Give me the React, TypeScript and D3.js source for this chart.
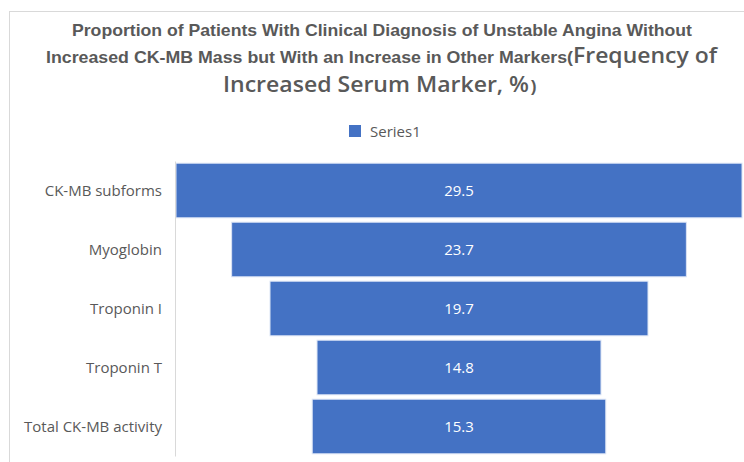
import React, { useEffect, useRef } from "react";
import * as d3 from "d3";

// funnel data, top to bottom
const markers = ["CK-MB subforms", "Myoglobin", "Troponin I", "Troponin T", "Total CK-MB activity"];
const series1 = [29.5, 23.7, 19.7, 14.8, 15.3];
const seriesName = "Series1";

const W = 744;
const H = 462;
const gray = "#595959";
const blue = "#4472C4";

export default function App() {
  const axisRef = useRef<SVGGElement>(null);

  const plotLeft = 175;
  const plotRight = 743;
  const center = (plotLeft + plotRight) / 2;

  const y = d3.scaleBand<string>()
    .domain(markers)
    .range([161, 456])
    .paddingInner(0.075)
    .paddingOuter(0.0375);

  const x = d3.scaleLinear()
    .domain([0, d3.max(series1) as number])
    .range([0, 566]);

  useEffect(() => {
    const g = d3.select(axisRef.current);
    g.selectAll("*").remove();
    const axis = d3.axisLeft(y).tickSize(0).tickSizeOuter(0).tickPadding(13);
    g.call(axis as any);
    g.select(".domain").attr("stroke", "#d9d9d9").attr("stroke-width", 1);
    g.selectAll(".tick text")
      .attr("fill", gray)
      .attr("dy", "0.37em")
      .style("font-family", "'Open Sans', sans-serif")
      .style("font-size", "15px");
  }, []);

  const titleFont = "'Liberation Sans', Arial, sans-serif";
  const bigFont = "'Open Sans', sans-serif";

  return (
    <svg width={W} height={H} style={{ position: "absolute", left: 0, top: 0, background: "#fff" }}>
      {/* chart area border */}
      <rect x={9.5} y={11.5} width={W + 20} height={H + 20} fill="#fff" stroke="#d9d9d9" />

      {/* title */}
      <g fill={gray}>
        <text x={72} y={36} fontFamily={titleFont} fontWeight="bold" fontSize={16.5}
          textLength={620} lengthAdjust="spacingAndGlyphs">
          Proportion of Patients With  Clinical Diagnosis of Unstable Angina Without
        </text>
        <text x={46} y={63} fontFamily={titleFont} fontWeight="bold" fontSize={16.5}
          textLength={527} lengthAdjust="spacingAndGlyphs">
          Increased CK-MB Mass but With  an Increase in Other Markers(
        </text>
        <text x={573} y={63} fontFamily={bigFont} fontWeight={600} fontSize={21}
          textLength={144} lengthAdjust="spacingAndGlyphs">
          Frequency of
        </text>
        <text x={223} y={92} fontFamily={bigFont} fontWeight={600} fontSize={21}
          textLength={306} lengthAdjust="spacingAndGlyphs">
          Increased Serum Marker, %
        </text>
        <text x={531} y={92} fontFamily={titleFont} fontWeight="bold" fontSize={16.5}>)</text>
      </g>

      {/* legend */}
      <rect x={349} y={125} width={12} height={12} fill={blue} />
      <text x={370} y={136.5} fill={gray} fontFamily="'Open Sans', sans-serif" fontSize={15}>{seriesName}</text>

      {/* funnel bars */}
      {markers.map((m, i) => {
        const w = x(series1[i]);
        const by = y(m) as number;
        return (
          <g key={m}>
            <rect x={center - w / 2} y={by} width={w} height={y.bandwidth()}
              fill={blue} stroke="#dbe4f5" strokeWidth={1} />
            <text x={center} y={by + y.bandwidth() / 2} dy="0.37em" textAnchor="middle"
              fill="#fff" fontFamily="'Open Sans', sans-serif" fontSize={15}>
              {series1[i].toFixed(1)}
            </text>
          </g>
        );
      })}

      <g ref={axisRef} transform={`translate(${plotLeft},0)`} />
    </svg>
  );
}
